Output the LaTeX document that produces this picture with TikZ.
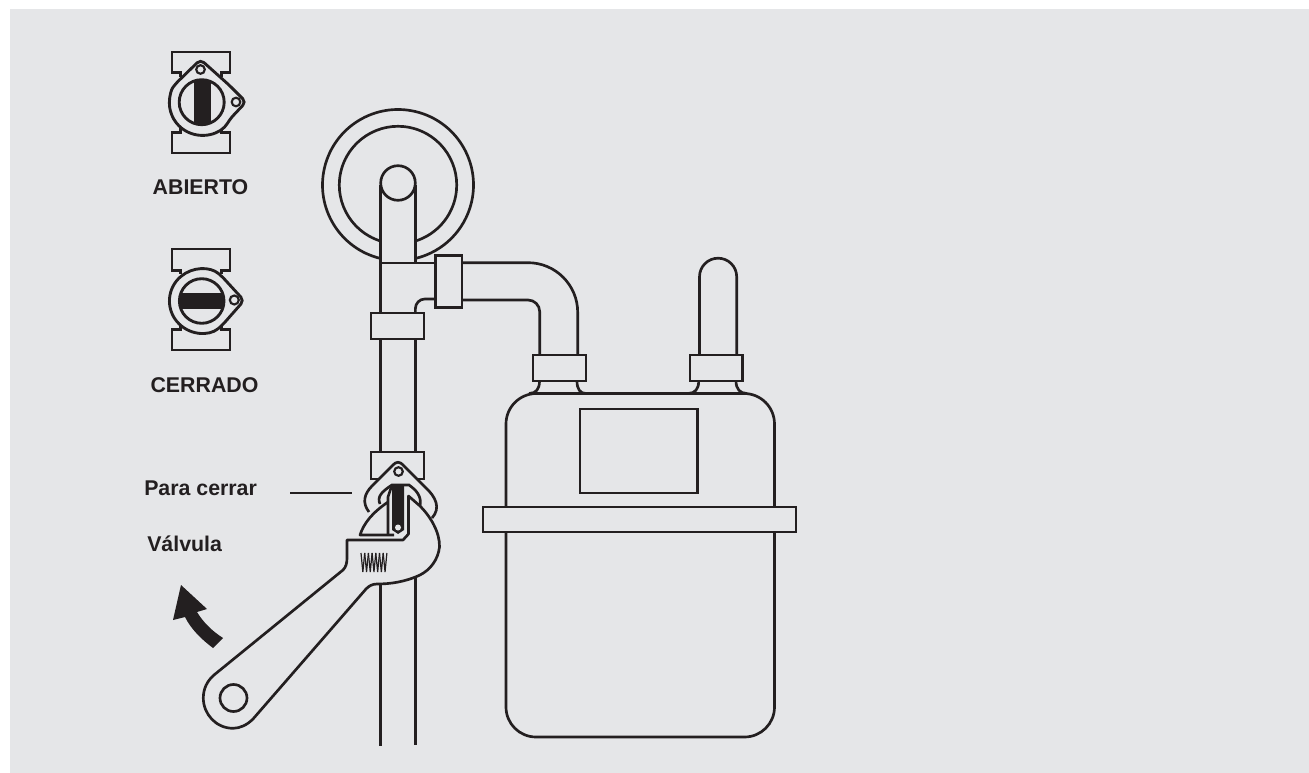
\documentclass[tikz,border=0pt]{standalone}
\usepackage{fontspec}
\setmainfont{Liberation Sans}
\definecolor{bgc}{HTML}{E5E6E8}
\definecolor{ink}{HTML}{231F20}
\tikzset{
  ln/.style={draw=ink,line width=2pt,line join=miter},
  icon/.style={draw=ink,line width=2.15pt,line join=miter},
  hole/.style={draw=ink,line width=1.6pt},
  lab/.style={font=\bfseries\fontsize{16pt}{18pt}\selectfont,text=ink,inner sep=0pt},
  solid ink/.style={fill=ink,draw=none}
}
\begin{document}
\begin{tikzpicture}[x=0.75pt,y=-0.75pt]
\useasboundingbox (0,0) rectangle (1309,773);
\fill[white] (0,0) rectangle (1309,773);
\fill[bgc] (10,9) rectangle (1309,773);

% ---- Open valve icon
\draw[icon] (180.7,77) -- (180.7,72.7) -- (172,72.7) -- (172,52) -- (230,52) -- (230,72.7) -- (221.7,72.7) -- (221.7,77);
\draw[icon] (180.7,128) -- (180.7,132.7) -- (172,132.7) -- (172,153) -- (230,153) -- (230,132.7) -- (221.7,132.7) -- (221.7,128);
\draw[icon,fill=bgc,rounded corners=3.5pt] (230,119) arc[start angle=30,end angle=215,radius=32.5]
   -- (200.5,59.5) -- (229,85) -- (246,102) -- cycle;
\draw[hole] (200.5,69.5) circle[radius=4.3];
\draw[hole] (236,102) circle[radius=4.3];
\begin{scope}
\clip (201.7,102.2) circle[radius=22.5];
\fill[ink] (194,75) rectangle (210.7,130);
\end{scope}
\draw[icon] (201.7,102.2) circle[radius=22.5];
\node[lab] (abierto) at (200.5,187) {ABIERTO};

% ---- Closed valve icon
\draw[icon] (180.7,274) -- (180.7,270.7) -- (172,270.7) -- (172,249) -- (230,249) -- (230,270.7) -- (221.7,270.7) -- (221.7,274);
\draw[icon] (180.7,326) -- (180.7,329.3) -- (172,329.3) -- (172,350) -- (230,350) -- (230,329.3) -- (221.7,329.3) -- (221.7,326);
\draw[icon,fill=bgc,rounded corners=3.5pt] (222,325.5) arc[start angle=50,end angle=310,radius=32]
   -- (244,300.5) -- cycle;
\draw[hole] (234.3,300) circle[radius=4.5];
\begin{scope}
\clip (201.7,301) circle[radius=22.3];
\fill[ink] (175,293.3) rectangle (230,309.3);
\end{scope}
\draw[icon] (201.7,301) circle[radius=22.3];
\node[lab] (cerrado) at (204.5,385) {CERRADO};

% ---- Disc behind pipe
\draw[ln] (398,185) ++(103.4:75.5 and 75.5) arc[start angle=103.4,end angle=436.6,radius=75.5];
\draw[ln] (398,185) ++(107.4:58.7 and 58.7) arc[start angle=107.4,end angle=432.6,radius=58.7];
\draw[ln] (398,183) circle[radius=17.3];

% ---- Vertical pipe and T
\draw[ln] (380.7,185) -- (380.7,313);
\draw[ln] (415.4,185) -- (415.4,263);
\draw[ln] (380.7,263) -- (436,263);
\draw[ln] (415.4,313) -- (415.4,308.5) arc[start angle=180,end angle=270,radius=9.5] -- (436,299);
\draw[ln] (380.7,339) -- (380.7,452);
\draw[ln] (415.4,339) -- (415.4,452);
\draw[ln] (380.7,584) -- (380.7,746);
\draw[ln] (415.4,578) -- (415.4,745);

% ---- Elbow to meter
\draw[ln] (462,262.7) -- (528,262.7) arc[start angle=-90,end angle=0,radius=49.7] -- (577.7,355);
\draw[ln] (462,300) -- (528,300) arc[start angle=-90,end angle=0,radius=11.7] -- (539.7,355);

% ---- Right stub
\draw[ln] (699.5,355) -- (699.5,276.8) arc[start angle=180,end angle=360,radius=18.6] -- (736.7,355);

% ---- Collars
\draw[ln,fill=bgc] (371,313) rectangle (424,339);
\draw[ln,fill=bgc] (435.7,255.7) rectangle (462,307.7);
\draw[ln,fill=bgc] (533,355) rectangle (586,381);
\draw[ln,fill=bgc] (690,355) rectangle (742.5,381);
\draw[ln,fill=bgc] (371,452) rectangle (424,479);

% ---- Meter
\draw[ln] (539.5,381) .. controls (539.5,389) and (536,393.5) .. (529,393.5);
\draw[ln] (577,381) .. controls (577,389) and (580,393.5) .. (586,393.5);
\draw[ln] (698.7,381) .. controls (698.7,389) and (695,393.5) .. (688,393.5);
\draw[ln] (736,381) .. controls (736,389) and (740,393.5) .. (747,393.5);
\draw[ln] (506,507) -- (506,424) arc[start angle=180,end angle=270,radius=30.5] -- (744,393.5)
   arc[start angle=-90,end angle=0,radius=30.5] -- (774.5,507);
\draw[ln] (506,532) -- (506,707) arc[start angle=180,end angle=90,radius=30] -- (744.5,737)
   arc[start angle=90,end angle=0,radius=30] -- (774.5,532);
\draw[ln] (483,507) rectangle (796,532);
\draw[ln] (580,409) rectangle (697.7,493);

% ---- Valve ear on the wrench
\draw[ln,fill=bgc,line join=round] (369,512) .. controls (362,503) and (364,494) .. (372,486)
   -- (392,466) .. controls (396,461) and (400,461) .. (404,466)
   -- (425,487) .. controls (436,497) and (441,508) .. (432,518);
\draw[hole] (398.5,471.5) circle[radius=4.3];
\draw[ln] (380,504) .. controls (377,497) and (381,492) .. (392,485) -- (409,485)
   .. controls (416,490) and (422,496) .. (420,506);

% ---- Wrench
\draw[ln,fill=bgc,line join=round] (347,540) -- (403,540) -- (408.5,534) -- (408.5,496)
   -- (420,506) .. controls (430,516) and (440,532) .. (439.5,547)
   .. controls (438,560) and (430,570) .. (420,575)
   .. controls (405,582) and (390,584) .. (377,584)
   .. controls (372,584) and (369,586) .. (366,589)
   -- (253,719) .. controls (247,725) and (240,728.3) .. (233,728.3)
   .. controls (216,728.3) and (203.3,714) .. (203.3,698)
   .. controls (203.3,689) and (207,681) .. (214,675)
   -- (343,570) .. controls (346,567) and (347,563) .. (347,558) -- cycle;
\draw[ln,fill=bgc] (233.5,698) circle[radius=13.5];
\draw[ln,fill=bgc,line join=round] (394,535) -- (360,535) .. controls (364,523) and (372,513) .. (388,502);
\draw[ln] (392,485) -- (388,497) -- (388,535);
\path[solid ink] (392,485) -- (404,485) -- (404,530) -- (398,534) -- (392,530) -- cycle;
\fill[bgc] (398,527.5) circle[radius=3];

% ---- Wrench spring
\foreach \i in {0,...,6} {
  \draw[draw=ink,line width=0.9pt] ({361+3.7*\i},553) -- ({362.85+3.7*\i},572) -- ({364.7+3.7*\i},553);
}

% ---- Arrow
\path[solid ink] (181,585) -- (207,609) -- (197,612) .. controls (203,622) and (212,631) .. (223,638)
   -- (213,648) .. controls (201,639) and (191,629) .. (185,617) -- (173,620) -- cycle;

% ---- Labels
\node[lab,anchor=base west] (para) at (144,495) {Para cerrar};
\node[lab,anchor=base west] (valvula) at (147,551) {Válvula};
\coordinate (ldA) at (290,493);
\coordinate (ldB) at (352,493);
\draw[ln] (ldA) -- (ldB);
\end{tikzpicture}
\end{document}
